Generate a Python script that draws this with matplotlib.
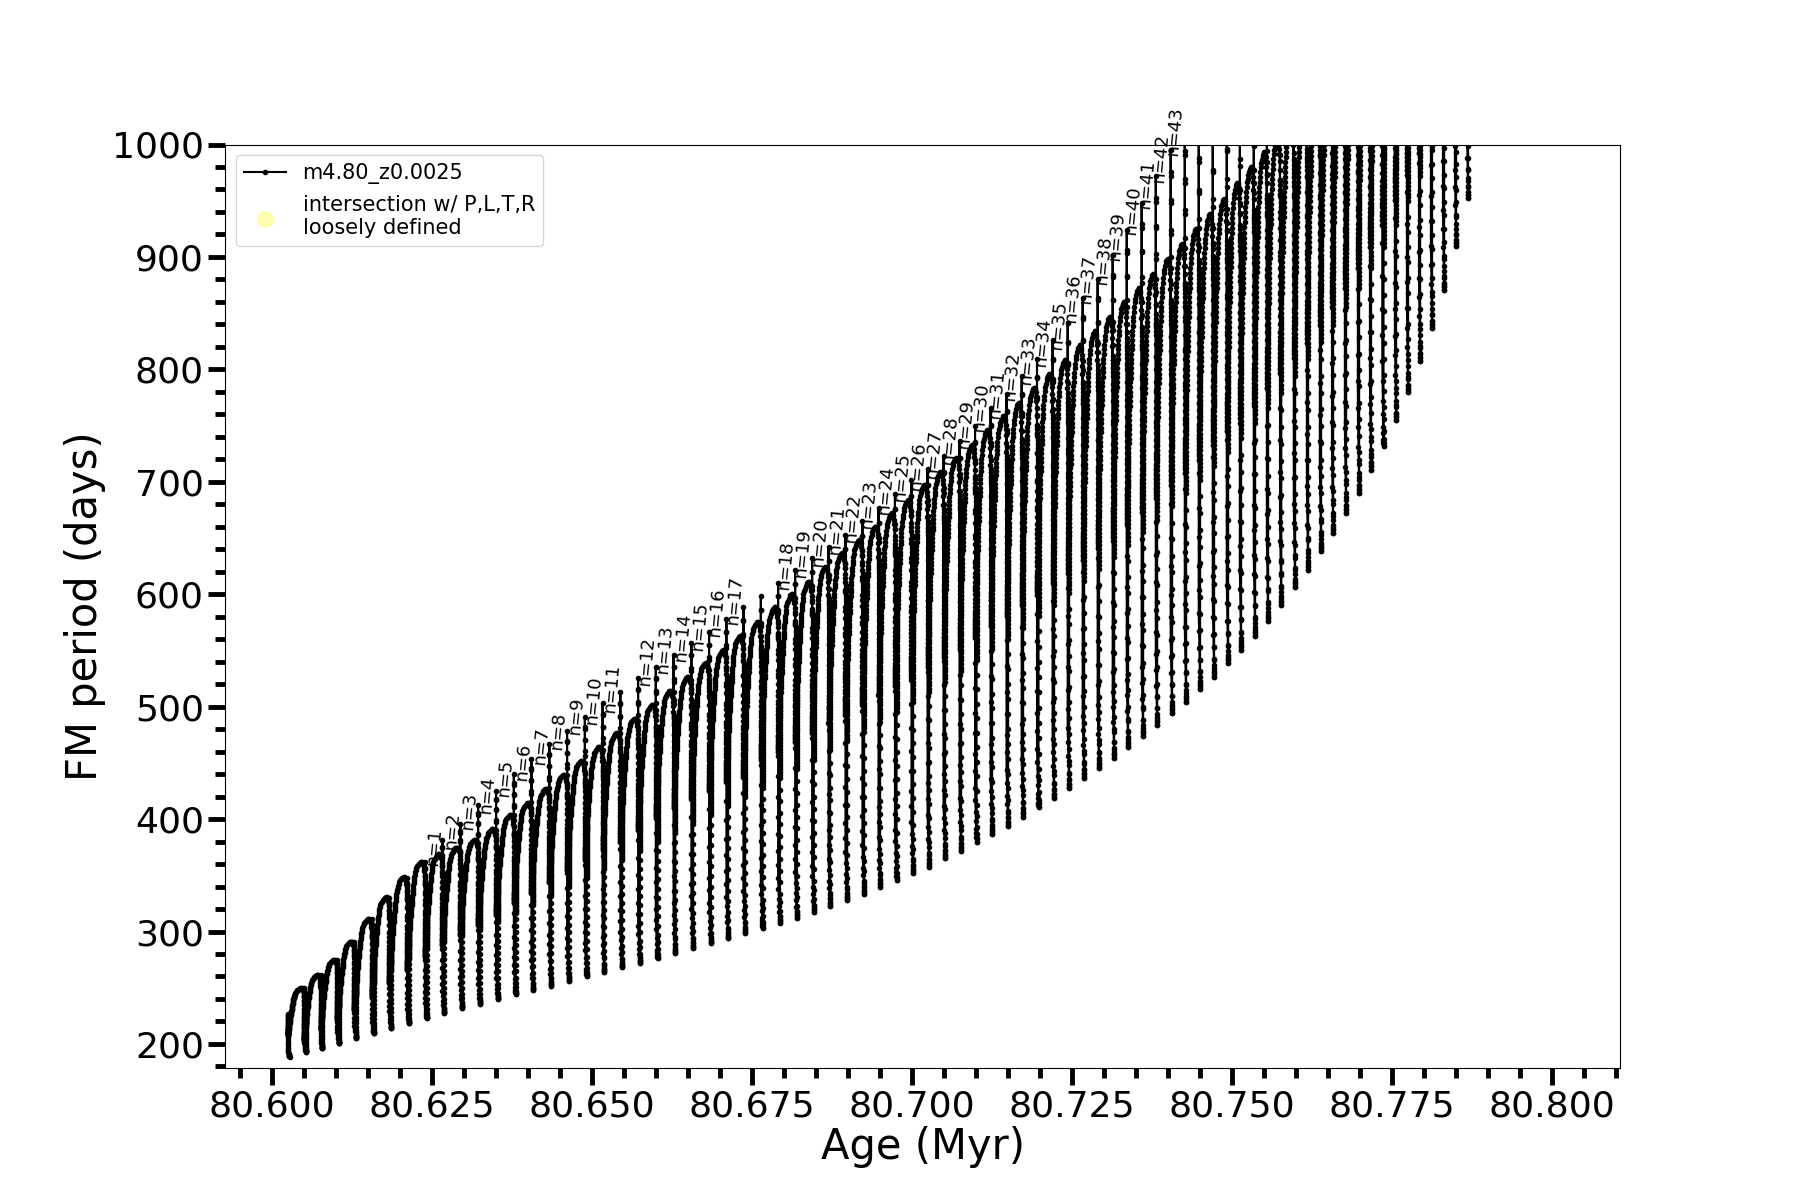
import numpy as np
import matplotlib
matplotlib.use("Agg")
import matplotlib.pyplot as plt
from matplotlib.ticker import MultipleLocator, FormatStrFormatter

# One row per thermal pulse
pulse_age = [
    80.60281, 80.60536, 80.60791, 80.61056, 80.61322, 80.61594, 80.61869, 80.62145, 80.62422, 80.62697,
    80.62978, 80.63255, 80.63536, 80.63813, 80.64088, 80.64369, 80.64645, 80.64923, 80.65200, 80.65478,
    80.65755, 80.66031, 80.66309, 80.66588, 80.66864, 80.67134, 80.67400, 80.67672, 80.67942, 80.68208,
    80.68473, 80.68728, 80.68994, 80.69259, 80.69509, 80.69766, 80.70025, 80.70275, 80.70525, 80.70775,
    80.71016, 80.71259, 80.71509, 80.71744, 80.71984, 80.72228, 80.72463, 80.72697, 80.72931, 80.73166,
    80.73384, 80.73619, 80.73838, 80.74072, 80.74291, 80.74509, 80.74728, 80.74947, 80.75150, 80.75369,
    80.75572, 80.75778, 80.75994, 80.76197, 80.76400, 80.76588, 80.76791, 80.76994, 80.77181, 80.77375,
    80.77572, 80.77759, 80.77947, 80.78134, 80.78322, 80.78509, 80.78697,
]
pulse_min = [
    188.7, 193.1, 196.2, 200.6, 205.1, 209.5, 214.0, 218.4, 222.9, 227.3,
    231.8, 235.6, 239.8, 244.5, 248.0, 251.9, 256.1, 260.1, 264.1, 268.1,
    272.1, 276.2, 280.5, 285.0, 289.6, 294.0, 298.5, 303.5, 307.9, 312.4,
    317.7, 323.0, 328.1, 333.5, 340.0, 345.9, 351.9, 357.7, 365.2, 371.7,
    380.0, 386.8, 394.0, 402.2, 410.6, 418.6, 427.5, 436.4, 445.3, 454.7,
    464.0, 474.0, 483.8, 494.5, 504.5, 515.8, 526.8, 538.7, 550.5, 563.0,
    576.3, 590.6, 606.3, 621.7, 638.0, 654.4, 672.2, 690.0, 710.7, 731.4,
    754.6, 779.5, 807.7, 837.0, 870.8, 909.4, 952.4,
]
spike_top = [
    227.0, 250.0, 261.0, 275.0, 291.0, 311.0, 330.0, 348.0, 362.2, 381.5,
    395.7, 412.4, 425.4, 439.9, 453.3, 466.9, 478.7, 490.7, 503.1, 512.9,
    525.4, 535.7, 546.1, 556.5, 566.3, 578.1, 588.5, 598.0, 610.4, 621.1,
    632.1, 642.4, 652.9, 664.7, 676.9, 689.3, 701.8, 711.6, 722.5, 735.9,
    749.8, 765.6, 778.0, 793.7, 809.2, 825.7, 841.2, 863.7, 880.6, 902.0,
    924.2, 948.0, 971.6, 995.4, 1015.0, 1035.0, 1055.0, 1075.0, 1095.0, 1115.0,
    1135.0, 1155.0, 1175.0, 1195.0, 1215.0, 1235.0, 1255.0, 1275.0, 1295.0, 1315.0,
    1335.0, 1355.0, 1375.0, 1395.0, 1415.0, 1435.0, 1455.0,
]
pulse_dip = [
    208.0, 203.6, 212.5, 221.4, 230.2, 242.1, 254.0, 265.8, 277.7, 288.1,
    297.0, 305.9, 314.8, 325.2, 334.1, 344.4, 354.8, 363.7, 372.6, 379.7,
    390.4, 401.1, 410.0, 419.8, 426.0, 434.9, 437.8, 452.7, 460.0, 469.0,
    476.7, 485.6, 492.7, 501.6, 510.5, 518.8, 526.8, 535.7, 544.6, 552.3,
    562.4, 571.3, 580.2, 590.6, 599.5, 609.9, 619.0, 630.6, 641.3, 651.3,
    663.3, 673.3, 685.8, 697.3, 708.0, 719.6, 732.9, 744.8, 756.7, 770.3,
    783.6, 797.0, 810.3, 823.7, 839.7, 855.7, 872.6, 890.4, 909.1, 928.7,
    950.9, 973.2, 992.7, 1015.0, 1035.0, 1055.0, 1075.0,
]
dome_peak = [
    249.6, 261.4, 274.7, 291.0, 311.2, 330.5, 348.3, 362.2, 369.0, 374.7,
    381.5, 391.3, 403.7, 414.7, 426.9, 439.3, 452.0, 464.5, 477.0, 489.2,
    501.6, 514.3, 526.8, 538.7, 550.5, 563.0, 575.2, 588.2, 600.4, 611.3,
    624.1, 636.6, 648.4, 660.2, 672.4, 684.0, 697.3, 708.6, 721.6, 732.9,
    746.3, 758.1, 770.0, 783.4, 796.1, 807.9, 821.3, 833.7, 846.5, 859.5,
    872.0, 884.8, 898.2, 911.5, 924.8, 938.2, 951.5, 965.8, 979.7, 993.3,
    1005.0, 1020.0, 1034.0, 1048.0, 1062.0, 1077.0, 1092.0, 1107.0, 1122.0, 1138.0,
    1154.0, 1170.0, 1187.0, 1204.0, 1222.0, 1240.0,
]

# Which pulses carry an n= label (n counts up along this list) and the height of each label
labelled_pulses = [
    9, 10, 11, 12, 13, 14, 15, 16, 17, 18, 19,
    21, 22, 23, 24, 25, 26,
    29, 30, 31, 32, 33, 34, 35, 36, 37, 38, 39, 40, 41, 42, 43, 44, 45, 46,
    47, 48, 49, 50, 51, 52, 53, 54,
]
label_period = [
    375.5, 390.0, 407.4, 421.4, 436.4, 450.6, 465.4, 478.2, 491.7, 505.8, 516.9,
    541.0, 551.6, 562.0, 572.0, 583.9, 594.4,
    625.6, 636.3, 646.4, 656.7, 668.2, 680.1, 692.3, 704.5, 714.0, 724.5, 737.4, 751.0, 766.5, 778.4,
    793.7, 808.7, 824.8, 839.7, 863.0, 880.0, 897.0, 918.7, 942.0, 965.0, 988.4, 1012.0,
]

# Sample spacing of one pulse, as fractions of the pulse's own extent
spike_up = [0, .005, .01, .02, .03, .05, .07, .10, .13, .17, .21, .26, .31, .37, .43, .49, .55, .61, .67, .73,
            .79, .85, .91, .96, 1]
spike_down = [.08, .16, .24, .32, .40, .46, .52, .56, .60, .64, .67, .70, .72, .74, .76, .78, .80, .82, .84, .86,
              .88, .90, .91, .92, .93, .94, .95, .96, .97, .98, .99, 1]
dome_t = [-.10, -.0925, -.085, -.0775, -.07, -.0625, -.055, -.0475, -.04, -.0325, -.025,
          -.0175, -.01, -.0025, .005, .0125, .02, .0275, .035, .0425, .05,
          .06, .07, .08, .09, .10, .11, .12, .13, .14, .15, .16, .17, .185, .20,
          .21, .22, .23, .24, .25, .265, .28, .295, .315, .335,
          .36, .39, .43, .47, .52, .57, .62, .66, .70, .74, .78, .81, .84, .86, .875, .885, .895]
dome_s = [0, .02, .04, .06, .08, .10, .12, .14, .16, .18, .20,
          .22, .24, .26, .28, .30, .32, .34, .36, .38, .40,
          .42, .44, .46, .48, .50, .52, .54, .56, .58, .60, .62, .64, .66, .68,
          .70, .72, .74, .76, .78, .80, .82, .84, .86, .88,
          .90, .92, .94, .955, .97, .98, .99, .995, 1, 1, .99, .98, .96, .94, .91, .875, .83]
fall_f = [.01, .02, .03, .04, .05, .06, .07, .08, .09, .10, .11, .12, .13, .14, .15, .16, .17, .18, .19, .20,
          .21, .22, .23, .24, .25, .26, .27, .28, .29, .30, .31, .32, .33, .34, .35, .36, .37, .38, .39, .40,
          .41, .42, .43, .44, .45, .46, .47, .48, .49, .50, .54, .58, .62, .66, .70,
          .74, .78, .82, .86, .90, .93, .96, .98, .99, 1]
fall_x = [.1, .2, .3, .4, .5, .6, .7, .8, .9, 1.0] + [1.0] * (len(fall_f) - 10)

ages = np.array(pulse_age)
spacing = np.diff(ages)
age_parts = []
period_parts = []

for i in range(len(ages)):
    dx_prev = spacing[max(i - 1, 0)]
    top_x = ages[i] - 0.1 * dx_prev
    # up the spike from the minimum, then back down to the dip
    up = np.array(spike_up)
    age_parts.append(ages[i] + (top_x - ages[i]) * np.minimum(up * 8, 1))
    period_parts.append(pulse_min[i] + (spike_top[i] - pulse_min[i]) * up)
    down = np.array(spike_down)
    age_parts.append(np.full(len(down), top_x))
    period_parts.append(spike_top[i] + (pulse_dip[i] - spike_top[i]) * down)
    if i == len(ages) - 1:
        break
    # dome, then the drop into the next minimum
    dome_y = pulse_dip[i] + (dome_peak[i] - pulse_dip[i]) * np.array(dome_s)
    age_parts.append(ages[i] + spacing[i] * np.array(dome_t))
    period_parts.append(dome_y)
    age_parts.append(ages[i] + spacing[i] * (0.9 + 0.1 * np.array(fall_x)))
    period_parts.append(dome_y[-1] + (pulse_min[i + 1] - dome_y[-1]) * np.array(fall_f))

fig, ax = plt.subplots(figsize=(18, 12), dpi=100)
fig.subplots_adjust(left=225.5 / 1800, right=1620 / 1800, top=1 - 144.5 / 1200, bottom=1 - 1068 / 1200)

ax.plot(np.concatenate(age_parts), np.concatenate(period_parts), color="k", lw=1.5, marker=".", ms=6,
        label="m4.80_z0.0025")
ax.scatter([], [], color="yellow", alpha=0.3, s=120, label="intersection w/ P,L,T,R\nloosely defined")

for n, i in enumerate(labelled_pulses, start=1):
    ax.text(ages[i], label_period[n - 1], "n=%d" % n, rotation=85, ha="right", va="center", fontsize=13)

ax.set_xlim(80.5928, 80.8107)
ax.set_ylim(178.6, 1000)
ax.xaxis.set_major_locator(MultipleLocator(0.025))
ax.xaxis.set_minor_locator(MultipleLocator(0.005))
ax.xaxis.set_major_formatter(FormatStrFormatter("%.3f"))
ax.yaxis.set_major_locator(MultipleLocator(100))
ax.yaxis.set_minor_locator(MultipleLocator(20))
ax.tick_params(axis="both", which="major", length=12, width=3.5, labelsize=26)
ax.tick_params(axis="both", which="minor", length=7, width=3.5)
ax.set_xlabel("Age (Myr)", fontsize=30, labelpad=2)
ax.set_ylabel("FM period (days)", fontsize=30)
ax.legend(loc="upper left", fontsize=15)

plt.savefig("out.png", dpi=100)
